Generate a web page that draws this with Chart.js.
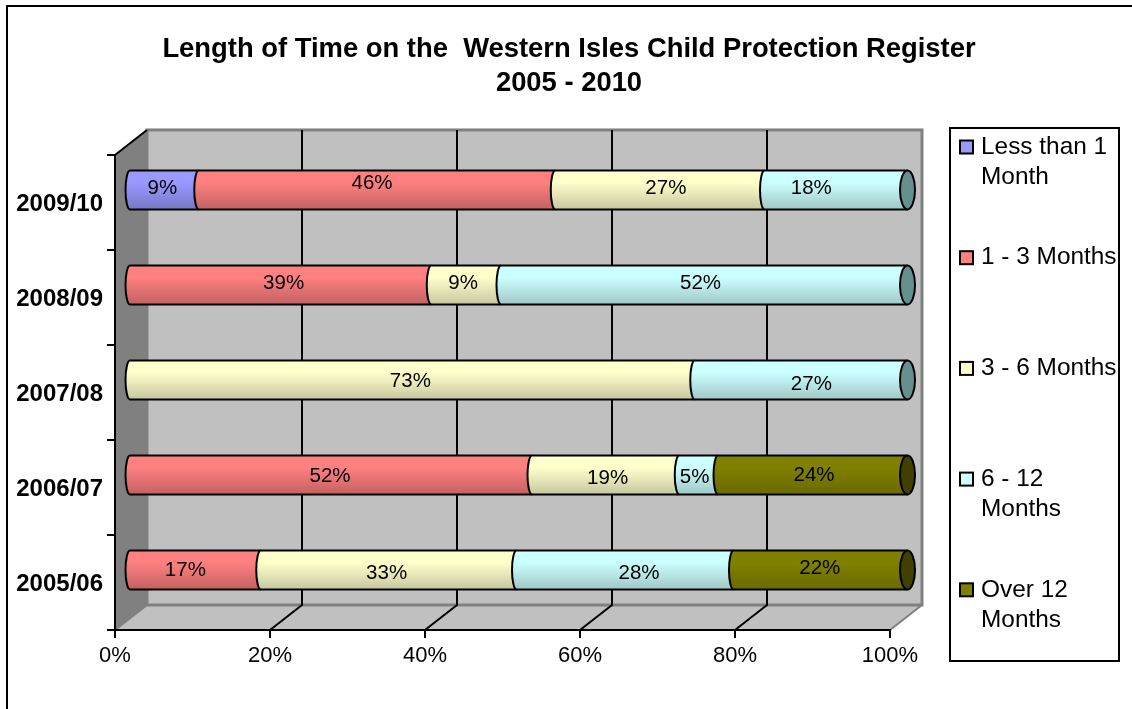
<!DOCTYPE html>
<html>
<head>
<meta charset="utf-8">
<style>
  html, body { margin: 0; padding: 0; background: #fff; }
  #wrap { width: 1132px; height: 709px; }
</style>
</head>
<body>
<div id="wrap"><canvas id="chart" width="1132" height="709"></canvas></div>
<script src="https://cdn.jsdelivr.net/npm/chart.js@4"></script>
<script>
const years = ['2009/10', '2008/09', '2007/08', '2006/07', '2005/06'];
const xTicks = [0, 20, 40, 60, 80, 100];
const titleLines = ['Length of Time on the  Western Isles Child Protection Register', '2005 - 2010'];

const lessThan1 = [9, 0, 0, 0, 0];
const months1to3 = [46, 39, 0, 52, 17];
const months3to6 = [27, 9, 73, 19, 33];
const months6to12 = [18, 52, 27, 5, 28];
const over12 = [0, 0, 0, 24, 22];

const seriesNames = ['Less than 1 Month', '1 - 3 Months', '3 - 6 Months', '6 - 12 Months', 'Over 12 Months'];
const legendLines = [['Less than 1', 'Month'], ['1 - 3 Months'], ['3 - 6 Months'], ['6 - 12', 'Months'], ['Over 12', 'Months']];
const topColors = ['#9999ff', '#ff8080', '#ffffcc', '#ccffff', '#808000'];
const bottomColors = ['#7878c8', '#c46262', '#c8c8a0', '#a0c8c8', '#6a6a00'];
const capColors = ['#4d4d80', '#804040', '#808066', '#669090', '#404000'];

// 3d depth of the box, and how far the bars sit into it
const depthX = 32, depthY = 25;
const barX = 14, barY = -12.5;
const bulge = 4.5, capRadius = 7.5, capShift = 3.5;

// the old chart placed its value labels a little off centre: [series, year] -> [dx, dy]
const labelNudges = {
  '0,0': [-2, -3], '1,0': [-5, -8], '2,0': [6, -3], '3,0': [-23, -3],
  '1,1': [3, -3], '2,1': [-3, -3], '3,1': [-2, -3],
  '2,2': [-2, 0], '3,2': [12, 3],
  '1,3': [-1, 0], '2,3': [2, 2], '3,3': [-4, 1], '4,3': [3, -1],
  '1,4': [-10, -1], '2,4': [-2, 2], '3,4': [14, 2], '4,4': [1, -3]
};

function barGradient(c, i) {
  if (c.dataIndex === undefined || !c.chart.scales.y) return topColors[i];
  const yc = c.chart.scales.y.getPixelForValue(c.dataIndex);
  if (!isFinite(yc)) return topColors[i];
  const g = c.chart.ctx.createLinearGradient(0, yc - 19, 0, yc + 19);
  g.addColorStop(0, topColors[i]);
  g.addColorStop(0.3, topColors[i]);
  g.addColorStop(1, bottomColors[i]);
  return g;
}

// White page, walls and floor of the 3d box
const boxPlugin = {
  id: 'box',
  beforeDraw(chart) {
    const { ctx, chartArea: a, scales: { x } } = chart;
    ctx.save();
    ctx.fillStyle = '#fff';
    ctx.fillRect(0, 0, chart.width, chart.height);

    // only the top and left edges of the frame are in the picture
    ctx.strokeStyle = '#000';
    ctx.lineWidth = 2;
    ctx.beginPath();
    ctx.moveTo(7, chart.height);
    ctx.lineTo(7, 6);
    ctx.lineTo(chart.width, 6);
    ctx.stroke();

    ctx.fillStyle = '#c0c0c0';
    ctx.fillRect(a.left + depthX, a.top - depthY, a.width, a.height);
    ctx.beginPath();
    ctx.moveTo(a.left, a.bottom);
    ctx.lineTo(a.right, a.bottom);
    ctx.lineTo(a.right + depthX, a.bottom - depthY);
    ctx.lineTo(a.left + depthX, a.bottom - depthY);
    ctx.closePath();
    ctx.fill();

    ctx.fillStyle = '#808080';
    ctx.beginPath();
    ctx.moveTo(a.left, a.top);
    ctx.lineTo(a.left + depthX, a.top - depthY);
    ctx.lineTo(a.left + depthX, a.bottom - depthY);
    ctx.lineTo(a.left, a.bottom);
    ctx.closePath();
    ctx.fill();

    ctx.strokeStyle = '#808080';
    ctx.lineWidth = 3;
    ctx.strokeRect(a.left + depthX, a.top - depthY, a.width, a.height);
    ctx.lineWidth = 2;
    ctx.beginPath();
    ctx.moveTo(a.left, a.bottom);
    ctx.lineTo(a.left + depthX, a.bottom - depthY);
    ctx.moveTo(a.right, a.bottom);
    ctx.lineTo(a.right + depthX, a.bottom - depthY);
    ctx.stroke();

    ctx.strokeStyle = '#000';
    ctx.lineWidth = 2;
    ctx.beginPath();
    ctx.moveTo(a.left, a.top);
    ctx.lineTo(a.left + depthX, a.top - depthY);
    xTicks.slice(1, -1).forEach(v => {
      const px = x.getPixelForValue(v);
      ctx.moveTo(px, a.bottom);
      ctx.lineTo(px + depthX, a.bottom - depthY);
      ctx.lineTo(px + depthX, a.top - depthY);
    });
    ctx.stroke();
    ctx.restore();
  },
  beforeDatasetsDraw(chart) {
    chart.ctx.save();
    chart.ctx.translate(barX, barY);
  },
  // Round ends, outlines and value labels on top of the library's bars
  afterDatasetsDraw(chart) {
    const { ctx, data } = chart;
    ctx.strokeStyle = '#000';
    ctx.lineWidth = 2;
    data.datasets.forEach((ds, i) => {
      chart.getDatasetMeta(i).data.forEach((el, j) => {
        if (!ds.data[j]) return;
        const h = el.height / 2;
        const isLast = data.datasets.slice(i + 1).every(d => !d.data[j]);
        const end = isLast ? el.x + capShift : el.x;
        ctx.beginPath();
        ctx.moveTo(end, el.y - h);
        ctx.lineTo(el.base, el.y - h);
        ctx.ellipse(el.base, el.y, bulge, h, 0, -Math.PI / 2, Math.PI / 2, true);
        ctx.lineTo(end, el.y + h);
        ctx.fillStyle = el.options.backgroundColor;
        ctx.fill();
        ctx.stroke();
        if (isLast) {
          ctx.beginPath();
          ctx.ellipse(end, el.y, capRadius, h, 0, 0, Math.PI * 2);
          ctx.fillStyle = capColors[i];
          ctx.fill();
          ctx.stroke();
        }
      });
    });
    ctx.fillStyle = '#000';
    ctx.font = '20.5px "Liberation Sans"';
    ctx.textAlign = 'center';
    ctx.textBaseline = 'middle';
    data.datasets.forEach((ds, i) => {
      chart.getDatasetMeta(i).data.forEach((el, j) => {
        if (!ds.data[j]) return;
        const nudge = labelNudges[i + ',' + j] || [0, 0];
        ctx.fillText(ds.data[j] + '%', (el.base + el.x) / 2 + nudge[0], el.y + 1 + nudge[1]);
      });
    });
    ctx.restore();
  },
  // Legend box, wrapped the way the reference wraps it
  afterDraw(chart) {
    const { ctx } = chart;
    ctx.save();
    ctx.strokeStyle = '#000';
    ctx.lineWidth = 2;
    ctx.fillStyle = '#fff';
    ctx.fillRect(950, 128, 169, 533);
    ctx.strokeRect(950, 128, 169, 533);
    ctx.font = '24.4px "Liberation Sans"';
    ctx.textBaseline = 'middle';
    legendLines.forEach((lines, i) => {
      const y = 147 + i * 110.7;
      ctx.fillStyle = topColors[i];
      ctx.fillRect(960, y - 6.5, 13, 13);
      ctx.strokeRect(960, y - 6.5, 13, 13);
      ctx.fillStyle = '#000';
      lines.forEach((line, k) => ctx.fillText(line, 981, y + k * 30));
    });
    ctx.restore();
  }
};

const seriesValues = [lessThan1, months1to3, months3to6, months6to12, over12];
const datasets = seriesValues.map((values, i) => ({
  label: seriesNames[i],
  data: values,
  backgroundColor: c => barGradient(c, i),
  borderWidth: 0,
  clip: false,
  categoryPercentage: 1,
  barPercentage: 0.41
}));

new Chart(document.getElementById('chart'), {
  type: 'bar',
  data: { labels: years, datasets: datasets },
  options: {
    responsive: false,
    animation: false,
    indexAxis: 'y',
    layout: { padding: { left: 6, right: 0, top: 0, bottom: 0 } },
    plugins: {
      legend: { display: false },
      tooltip: { enabled: false },
      title: {
        display: true,
        text: titleLines,
        color: '#000',
        font: { family: 'Liberation Sans', size: 27.4, weight: 'bold', lineHeight: 1.24 },
        padding: { top: 32, bottom: 55 }
      }
    },
    scales: {
      x: {
        stacked: true,
        min: 0,
        max: 100,
        afterBuildTicks: s => { s.ticks = xTicks.map(v => ({ value: v })); },
        afterFit: s => { s.height = 79; },
        ticks: {
          color: '#000',
          padding: 5,
          maxRotation: 0,
          font: { family: 'Liberation Sans', size: 22 },
          callback: v => v + '%'
        },
        grid: { drawOnChartArea: false, color: '#000', lineWidth: 2, tickLength: 8 },
        border: { color: '#000', width: 2 }
      },
      y: {
        stacked: true,
        afterFit: s => { s.width = 109; },
        ticks: {
          color: '#000',
          padding: 4,
          labelOffset: 2,
          font: { family: 'Liberation Sans', size: 24, weight: 'bold' }
        },
        grid: { drawOnChartArea: false, color: '#000', lineWidth: 2, tickLength: 8 },
        border: { color: '#000', width: 2 }
      },
      // keeps room for the legend box on the right without moving the title
      room: {
        type: 'linear',
        axis: 'y',
        position: 'right',
        afterFit: s => { s.width = 242; },
        ticks: { display: false },
        grid: { display: false },
        border: { display: false }
      }
    }
  },
  plugins: [boxPlugin]
});
</script>
</body>
</html>
